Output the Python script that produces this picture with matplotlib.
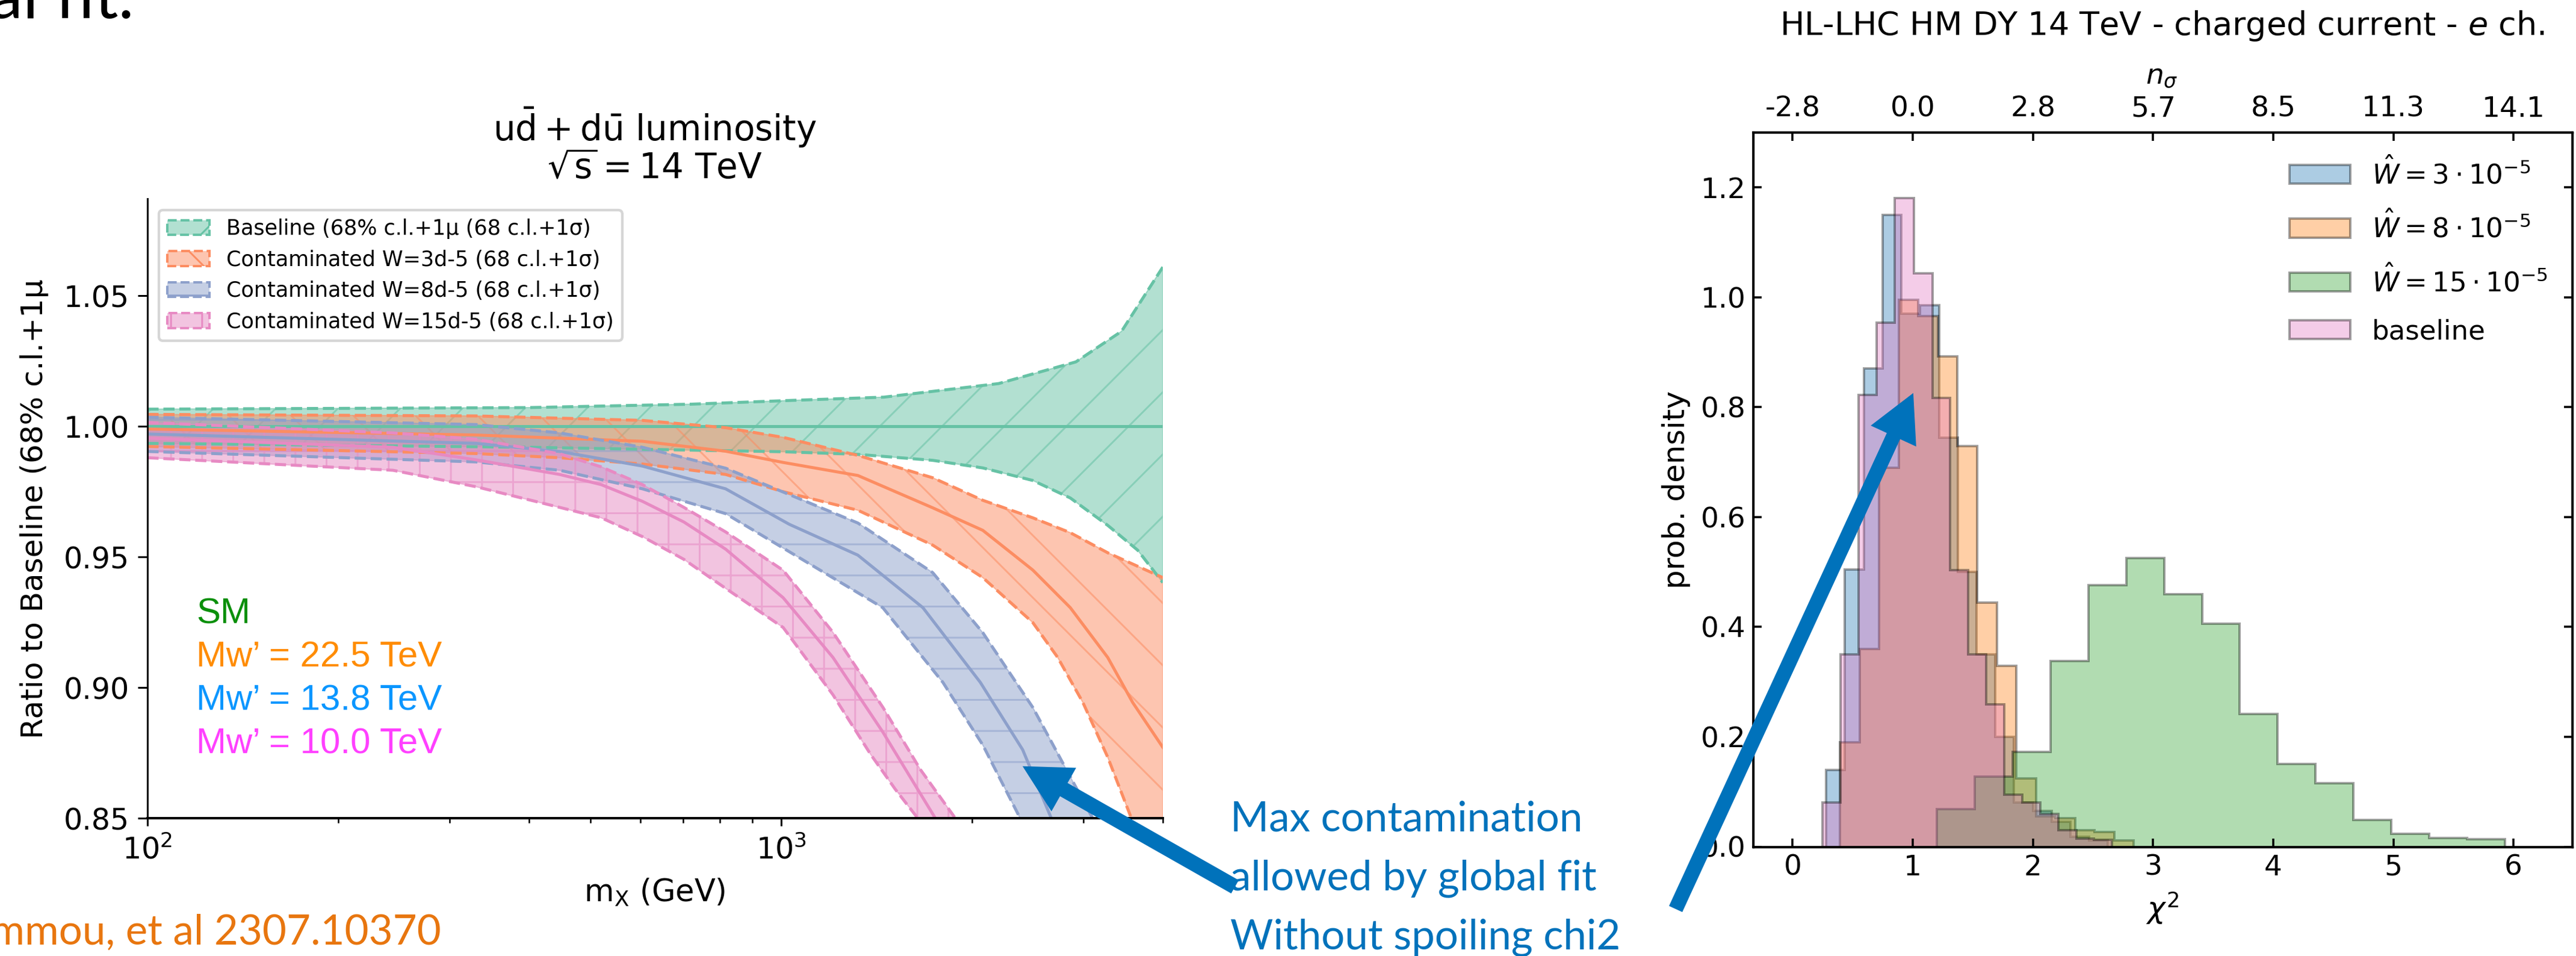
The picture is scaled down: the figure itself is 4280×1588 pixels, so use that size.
import numpy as np
import matplotlib
matplotlib.use('Agg')
import matplotlib.pyplot as plt
from matplotlib.patches import Patch, FancyArrow
from matplotlib.transforms import IdentityTransform
from matplotlib.colors import to_rgba
from matplotlib.ticker import FormatStrFormatter

W, H, DPI = 4280, 1588, 310


def pt(px):
    return px * 72.0 / DPI


plt.rcParams['font.family'] = ['DejaVu Sans']
plt.rcParams['mathtext.fontset'] = 'dejavusans'
plt.rcParams['hatch.linewidth'] = pt(3)

# ---------------- left panel data: ratio to baseline vs m_X -----------------
g_up_m = [100, 400, 721, 1051, 1452, 2203, 2917, 3443, 4000]
g_up_r = [1.0066, 1.0072, 1.0085, 1.0100, 1.0112, 1.0164, 1.0247, 1.0364, 1.061]
g_c_m = [100, 4000]
g_c_r = [1.0, 1.0]
g_lo_m = [100, 400, 1007, 1321, 1735, 2080, 2494, 2858, 3275, 3651, 4000]
g_lo_r = [0.9935, 0.992, 0.9903, 0.9893, 0.9870, 0.9841, 0.9793, 0.9726, 0.9621, 0.9526, 0.9402]

o_up_m = [100, 330, 604, 817, 1007, 1321, 1735, 2080, 2494, 2858, 3275, 4000]
o_up_r = [1.0046, 1.004, 1.0023, 0.9995, 0.9958, 0.9889, 0.9803, 0.9717, 0.9650, 0.9593, 0.9516, 0.9421]
o_c_m = [100, 330, 604, 817, 1007, 1321, 1735, 2080, 2494, 2858, 3275, 3585, 4000]
o_c_r = [0.999, 0.9967, 0.9943, 0.9905, 0.9862, 0.9812, 0.9688, 0.9602, 0.9450, 0.9306, 0.9115, 0.8943, 0.8771]
o_lo_m = [100, 330, 447, 604, 817, 1007, 1321, 1735, 2080, 2494, 2731, 2992, 3275, 3569, 4000]
o_lo_r = [0.9923, 0.9896, 0.988, 0.9856, 0.9816, 0.9750, 0.9679, 0.9545, 0.9421, 0.9249, 0.9115, 0.8943, 0.8733, 0.8499, 0.82]

b_up_m = [100, 330, 447, 604, 817, 1051, 1321, 1734, 2080, 2494, 3101]
b_up_r = [1.0035, 1.0007, 0.9975, 0.992, 0.984, 0.973, 0.963, 0.944, 0.921, 0.8924, 0.8499]
b_c_m = [100, 330, 447, 604, 817, 1030, 1321, 1673, 2061, 2404, 2668]
b_c_r = [0.9971, 0.9935, 0.9904, 0.9848, 0.9761, 0.9625, 0.9507, 0.9306, 0.902, 0.8762, 0.8499]
b_lo_m = [100, 330, 447, 604, 817, 1030, 1446, 1799, 2080, 2383]
b_lo_r = [0.9904, 0.9864, 0.9832, 0.9761, 0.9666, 0.952, 0.9306, 0.902, 0.878, 0.8499]

p_up_m = [100, 244, 330, 447, 520, 604, 702, 817, 1007, 1207, 1447, 1658, 1883]
p_up_r = [1.0015, 0.9975, 0.9951, 0.9895, 0.9845, 0.9777, 0.969, 0.9596, 0.9449, 0.9211, 0.8924, 0.8686, 0.8499]
p_c_m = [100, 244, 330, 447, 520, 604, 702, 817, 1007, 1207, 1447, 1643, 1751]
p_c_r = [0.9955, 0.992, 0.9872, 0.9816, 0.9777, 0.9713, 0.9634, 0.953, 0.9344, 0.9115, 0.8829, 0.8609, 0.8499]
p_lo_m = [100, 244, 330, 447, 520, 604, 702, 817, 1007, 1207, 1383, 1514, 1643]
p_lo_r = [0.988, 0.9832, 0.9769, 0.969, 0.965, 0.9578, 0.9491, 0.938, 0.9230, 0.8972, 0.8745, 0.8610, 0.8499]

band_labels = ['Baseline (68% c.l.+1μ (68 c.l.+1σ)',
               'Contaminated W=3d-5 (68 c.l.+1σ)',
               'Contaminated W=8d-5 (68 c.l.+1σ)',
               'Contaminated W=15d-5 (68 c.l.+1σ)']
band_colors = ['#66c2a5', '#fc8d62', '#8da0cb', '#e78ac3']
band_hatches = ['/', '\\', '-', '+']
legend_hatches = ['/', '\\', '-', '|']

left_yticks = [0.85, 0.90, 0.95, 1.00, 1.05]

# ---------------- right panel data: chi2 histograms -----------------
w3_edges = [0.28, 0.436, 0.593, 0.749, 0.905, 1.062, 1.218, 1.374, 1.530,
            1.687, 1.843, 2.0, 2.156, 2.312, 2.468, 2.624]
w3_vals = [0.14, 0.505, 0.87, 1.15, 0.97, 0.985, 0.745, 0.50, 0.35,
           0.2, 0.08, 0.065, 0.045, 0.018, 0.012]
w8_edges = [0.395, 0.558, 0.721, 0.884, 1.047, 1.21, 1.373, 1.536, 1.699,
            1.862, 2.025, 2.188, 2.351, 2.514, 2.677, 2.84]
w8_vals = [0.19, 0.36, 0.69, 0.995, 0.966, 0.892, 0.729, 0.444, 0.329,
           0.124, 0.055, 0.052, 0.03, 0.027, 0.011]
w15_edges = [1.2, 1.515, 1.83, 2.146, 2.461, 2.776, 3.092, 3.407, 3.722,
             4.038, 4.353, 4.668, 4.984, 5.299, 5.614, 5.93]
w15_vals = [0.068, 0.128, 0.173, 0.338, 0.476, 0.525, 0.46, 0.406, 0.2416,
            0.151, 0.1157, 0.0492, 0.0238, 0.0164, 0.014]
base_edges = [0.25, 0.40, 0.55, 0.70, 0.85, 1.01, 1.163, 1.31, 1.46, 1.61,
              1.76, 1.91, 2.06, 2.21, 2.36, 2.51, 2.66]
base_vals = [0.08, 0.35, 0.822, 0.954, 1.181, 1.044, 0.817, 0.503, 0.35,
             0.259, 0.095, 0.08, 0.06, 0.03, 0.015, 0.013]

hist_labels = [r'$\hat{W}=3\cdot10^{-5}$', r'$\hat{W}=8\cdot10^{-5}$',
               r'$\hat{W}=15\cdot10^{-5}$', 'baseline']
hist_colors = ['C0', 'C1', 'C2', 'C6']
chi2_ticks = [0, 1, 2, 3, 4, 5, 6]
nsigma_labels = ['-2.8', '0.0', '2.8', '5.7', '8.5', '11.3', '14.1']
prob_ticks = [0.0, 0.2, 0.4, 0.6, 0.8, 1.0, 1.2]

# ============================================================================
fig = plt.figure(figsize=(W / DPI, H / DPI), dpi=DPI)

# ---------------- left axes -----------------
axL = fig.add_axes([245 / W, 1 - 1359 / H, (1932 - 245) / W, (1359 - 330) / H])
bands = [
    (g_up_m, g_up_r, g_c_m, g_c_r, g_lo_m, g_lo_r),
    (o_up_m, o_up_r, o_c_m, o_c_r, o_lo_m, o_lo_r),
    (b_up_m, b_up_r, b_c_m, b_c_r, b_lo_m, b_lo_r),
    (p_up_m, p_up_r, p_c_m, p_c_r, p_lo_m, p_lo_r),
]
for (um, ur, cm, cr, lm, lr), col, hat in zip(bands, band_colors, band_hatches):
    xs = np.concatenate([um, lm[::-1]])
    ys = np.concatenate([ur, lr[::-1]])
    axL.fill(xs, ys, facecolor=to_rgba(col, 0.5), edgecolor=to_rgba(col, 0.55),
             hatch=hat, linewidth=pt(2))
    axL.plot(um, ur, linestyle='--', color=col, lw=pt(5))
    axL.plot(lm, lr, linestyle='--', color=col, lw=pt(5))
    axL.plot(cm, cr, linestyle='-', color=col, lw=pt(5))

axL.set_xscale('log')
axL.set_xlim(100, 4000)
axL.set_ylim(0.85, 1.0872)
axL.set_yticks(left_yticks)
axL.yaxis.set_major_formatter(FormatStrFormatter('%.2f'))
for s in ['top', 'right']:
    axL.spines[s].set_visible(False)
axL.spines['left'].set_linewidth(pt(3))
axL.spines['bottom'].set_linewidth(pt(4))
axL.tick_params(axis='y', length=pt(16), width=pt(3), labelsize=pt(49), pad=pt(14))
axL.tick_params(axis='x', which='major', length=pt(13), width=pt(3), labelsize=pt(49), pad=pt(16))
axL.tick_params(axis='x', which='minor', length=pt(8), width=pt(2.5))

handles = [Patch(facecolor=to_rgba(c, 0.5), edgecolor=c, hatch=h, linestyle='--',
                 linewidth=pt(4), label=l)
           for c, h, l in zip(band_colors, legend_hatches, band_labels)]
axL.legend(handles=handles, loc='upper left', fontsize=pt(35),
           borderaxespad=0.55, handlelength=2.0)

fig.text(1088 / W, 1 - 212 / H, r'$\mathrm{u\bar{d} + d\bar{u}}$ luminosity',
         ha='center', va='center', fontsize=pt(58))
fig.text(1088 / W, 1 - 280 / H, r'$\sqrt{\mathrm{s}} = \mathrm{14\ TeV}$',
         ha='center', va='center', fontsize=pt(58))
fig.text(57 / W, 1 - 845 / H, 'Ratio to Baseline (68% c.l.+1μ', rotation=90,
         ha='center', va='center', fontsize=pt(50))
fig.text(1088 / W, 1 - 1483 / H, r'$\mathrm{m_{X}}$ (GeV)', ha='center', va='center',
         fontsize=pt(51))

lab_font = ['Liberation Sans', 'DejaVu Sans']
fig.text(326 / W, 1 - 1020 / H, 'SM', color='#0a8f0a', fontsize=pt(60), va='center',
         family=lab_font)
fig.text(326 / W, 1 - 1092 / H, 'Mw’ = 22.5 TeV', color='#ff8c00', fontsize=pt(60),
         va='center', family=lab_font)
fig.text(326 / W, 1 - 1164 / H, 'Mw’ = 13.8 TeV', color='#0a96ff', fontsize=pt(60),
         va='center', family=lab_font)
fig.text(326 / W, 1 - 1236 / H, 'Mw’ = 10.0 TeV', color='#ff40ff', fontsize=pt(60),
         va='center', family=lab_font)

# ---------------- right axes -----------------
axR = fig.add_axes([2912.5 / W, 1 - 1406.5 / H, (4274 - 2912.5) / W, (1406.5 - 220) / H])
hists = [(w3_edges, w3_vals), (w8_edges, w8_vals), (w15_edges, w15_vals),
         (base_edges, base_vals)]
for (e, v), c, l in zip(hists, hist_colors, hist_labels):
    axR.stairs(v, e, fill=True, facecolor=to_rgba(c, 0.37),
               edgecolor=(0, 0, 0, 0.37), linewidth=pt(4), label=l)
axR.set_xlim(-0.33, 6.49)
axR.set_ylim(0, 1.3)
axR.set_xticks(chi2_ticks)
axR.set_yticks(prob_ticks)
for s in axR.spines.values():
    s.set_linewidth(pt(3.5))
axR.tick_params(direction='in', top=False, right=True, length=pt(14), width=pt(3.5),
                labelsize=pt(47), pad=pt(12))
axR.legend(loc='upper right', frameon=False, fontsize=pt(45), handlelength=2.25,
           labelspacing=0.8, borderaxespad=0.5)

twin = axR.twiny()
twin.set_xlim(axR.get_xlim())
twin.set_xticks(chi2_ticks)
twin.set_xticklabels(nsigma_labels)
twin.tick_params(direction='in', length=pt(14), width=pt(3.5), labelsize=pt(47), pad=pt(16))

fig.text(3593 / W, 1 - 43 / H, 'HL-LHC HM DY 14 TeV - charged current - $e$ ch.',
         ha='center', va='center', fontsize=pt(54))
fig.text(3592 / W, 1 - 126 / H, r'$n_{\sigma}$', ha='center', va='center', fontsize=pt(47))
fig.text(3592 / W, 1 - 1508 / H, r'$\chi^2$', ha='center', va='center', fontsize=pt(50))
fig.text(2785 / W, 1 - 813 / H, 'prob. density', rotation=90, ha='center', va='center',
         fontsize=pt(50))

# ---------------- slide overlays -----------------
fig.text(223 / W, 1 - 30 / H, 'global fit.', ha='right', va='baseline',
         fontsize=pt(110), family=['Lato', 'DejaVu Sans'], color='black')
fig.text(733 / W, 1 - 1569 / H, 'Hammou, et al 2307.10370', ha='right', va='baseline',
         fontsize=pt(69), family=['Lato', 'DejaVu Sans'], color='#e8760f')
blue = '#0072bb'
for txt, yb in [('Max contamination', 1380), ('allowed by global fit', 1478),
                ('Without spoiling chi2', 1576)]:
    fig.text(2044 / W, 1 - yb / H, txt, ha='left', va='baseline', fontsize=pt(69),
             family=['Lato', 'DejaVu Sans'], color=blue)

arrow1 = FancyArrow(2050, H - 1472, -347, 197, width=21, head_width=76, head_length=72,
                    length_includes_head=True, color=blue, transform=IdentityTransform(),
                    zorder=10)
arrow2 = FancyArrow(2785, H - 1508, 392, 851, width=20, head_width=76, head_length=72,
                    length_includes_head=True, color=blue, transform=IdentityTransform(),
                    zorder=10)
fig.patches.extend([arrow1, arrow2])
arrow1.set_figure(fig)
arrow2.set_figure(fig)

fig.savefig('out.png', dpi=DPI)
